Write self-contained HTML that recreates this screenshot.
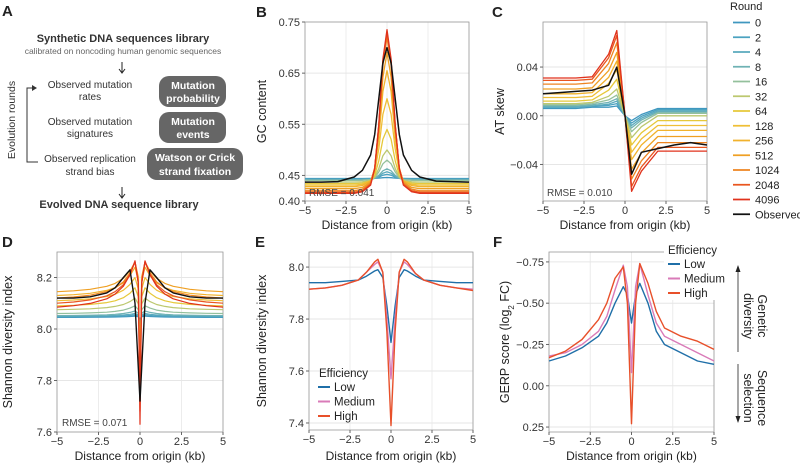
<!DOCTYPE html>
<html><head><meta charset="utf-8"><style>
html,body{margin:0;padding:0;background:#fff;overflow:hidden;}
svg{display:block;font-family:"Liberation Sans",sans-serif;}
</style></head><body>
<svg id="fig" width="800" height="467" viewBox="0 0 800 467" xmlns="http://www.w3.org/2000/svg">
<g font-size="10" fill="#333">
<text x="2" y="16" font-size="15" font-weight="bold" fill="#222">A</text>
<text x="123" y="42" text-anchor="middle" font-weight="bold" font-size="11">Synthetic DNA sequences library</text>
<text x="123" y="54" text-anchor="middle" font-size="8.5" fill="#666">calibrated on noncoding human genomic sequences</text>
<path d="M122 62 V72 M119 69 L122 73 L125 69" stroke="#222" fill="none"/>
<text x="90" y="88" text-anchor="middle">Observed mutation</text>
<text x="90" y="100" text-anchor="middle">rates</text>
<text x="90" y="125" text-anchor="middle">Observed mutation</text>
<text x="90" y="137" text-anchor="middle">signatures</text>
<text x="90" y="162" text-anchor="middle">Observed replication</text>
<text x="90" y="175" text-anchor="middle">strand bias</text>
<rect x="159" y="76" width="67" height="31" rx="10" fill="#666"/>
<text x="193" y="89" text-anchor="middle" fill="#fff" font-weight="bold" font-size="10.5">Mutation</text>
<text x="193" y="102" text-anchor="middle" fill="#fff" font-weight="bold" font-size="10.5">probability</text>
<rect x="159" y="112" width="67" height="31" rx="10" fill="#666"/>
<text x="193" y="125" text-anchor="middle" fill="#fff" font-weight="bold" font-size="10.5">Mutation</text>
<text x="193" y="138" text-anchor="middle" fill="#fff" font-weight="bold" font-size="10.5">events</text>
<rect x="147" y="148" width="96" height="32" rx="10" fill="#666"/>
<text x="195" y="161" text-anchor="middle" fill="#fff" font-weight="bold" font-size="10.5">Watson or Crick</text>
<text x="195" y="175" text-anchor="middle" fill="#fff" font-weight="bold" font-size="10.5">strand fixation</text>
<path d="M36 88 H27 V162 H38" stroke="#333" fill="none"/>
<path d="M32 85 L37 88 L32 91 Z" fill="#333"/>
<text transform="translate(15,120) rotate(-90)" text-anchor="middle" font-size="10.5">Evolution rounds</text>
<path d="M122 187 V197 M119 194 L122 198 L125 194" stroke="#222" fill="none"/>
<text x="119" y="208" text-anchor="middle" font-weight="bold" font-size="11">Evolved DNA sequence library</text>
</g>
<g id="charts"></g>
</svg>
<script>
// ----- Data -----
const rounds = ["0","2","4","8","16","32","64","128","256","512","1024","2048","4096"];
const roundColors = ["#3f97bf","#4ba2c0","#5aaabd","#6fb2b4","#94c09c","#bcc86f","#e6c83a","#efbf36","#f1b22d","#efa024","#ee8420","#e9561f","#e0321c"];
// Panel B (GC content)
const bX = [-5,-4,-3,-2,-1.5,-1,-0.75,-0.5,-0.25,0,0.25,0.5,0.75,1,1.5,2,3,4,5];
const bObserved = [0.437,0.437,0.438,0.447,0.46,0.49,0.53,0.6,0.67,0.70,0.67,0.6,0.53,0.49,0.46,0.447,0.439,0.438,0.437];
const bRoundBase = [0.444,0.443,0.442,0.441,0.44,0.437,0.434,0.431,0.428,0.424,0.42,0.417,0.415];
const bRoundPeak = [0.446,0.452,0.457,0.463,0.48,0.5,0.54,0.6,0.655,0.69,0.72,0.73,0.735];
const bShape = [0,0,0,0,0.01,0.05,0.15,0.42,0.82,1,0.82,0.42,0.15,0.05,0.01,0,0,0,0];
// Panel C (AT skew)
const cX = [-5,-4,-3,-2,-1,-0.5,0,0.4,1,2,3,4,5];
const cObserved = [0.018,0.019,0.02,0.021,0.025,0.04,0.0,-0.048,-0.03,-0.027,-0.024,-0.022,-0.024];
const cRoundLeft = [0.006,0.007,0.007,0.008,0.009,0.01,0.012,0.015,0.018,0.022,0.026,0.029,0.031];
const cRoundPeak = [0.008,0.01,0.012,0.014,0.017,0.022,0.03,0.038,0.045,0.052,0.06,0.066,0.07];
const cRoundTrough = [-0.004,-0.006,-0.008,-0.01,-0.013,-0.018,-0.024,-0.03,-0.036,-0.044,-0.052,-0.058,-0.062];
const cRoundRight = [0.006,0.005,0.004,0.003,0.002,0.0,-0.004,-0.008,-0.012,-0.017,-0.022,-0.026,-0.029];
// Panel D
const dX = [-5,-4,-3,-2,-1.5,-1,-0.6,-0.3,-0.1,0,0.1,0.3,0.6,1,1.5,2,3,4,5];
const dObserved = [8.12,8.12,8.125,8.14,8.16,8.2,8.23,8.1,7.85,7.72,7.85,8.1,8.23,8.2,8.16,8.14,8.125,8.12,8.12];
const dRoundBase = [8.045,8.047,8.05,8.052,8.06,8.075,8.09,8.11,8.13,8.145,8.12,8.1,8.085];
const dRoundPeak = [8.05,8.055,8.06,8.07,8.09,8.12,8.16,8.2,8.24,8.26,8.26,8.26,8.265];
const dRoundDip = [8.04,8.03,8.02,8.0,7.98,7.95,7.9,7.85,7.8,7.76,7.72,7.68,7.63];
const dShape = [0,0.03,0.08,0.18,0.28,0.45,0.7,1,0.5,-1,0.5,1,0.7,0.45,0.28,0.18,0.08,0.03,0];
// Panel E
const eX = [-5,-4,-3,-2,-1.5,-1,-0.8,-0.5,-0.25,0,0.25,0.5,0.8,1,1.5,2,3,4,5];
const eLow = [7.94,7.94,7.945,7.95,7.965,7.985,7.99,7.96,7.85,7.71,7.85,7.96,7.99,7.985,7.965,7.95,7.945,7.94,7.94];
const eMed = [7.915,7.92,7.93,7.95,7.98,8.01,8.02,7.98,7.8,7.57,7.8,7.98,8.02,8.01,7.975,7.95,7.93,7.92,7.915];
const eHigh = [7.915,7.92,7.93,7.95,7.98,8.02,8.03,7.98,7.75,7.39,7.75,7.98,8.03,8.02,7.975,7.95,7.93,7.92,7.91];
// Panel F
const fX = [-5,-4,-3,-2,-1.5,-1,-0.5,-0.25,0,0.25,0.5,1,1.5,2,3,4,5];
const fLow = [-0.15,-0.18,-0.23,-0.3,-0.38,-0.5,-0.6,-0.55,-0.38,-0.55,-0.62,-0.5,-0.33,-0.25,-0.2,-0.15,-0.13];
const fMed = [-0.18,-0.2,-0.25,-0.33,-0.42,-0.58,-0.73,-0.6,-0.08,-0.6,-0.74,-0.55,-0.38,-0.3,-0.25,-0.2,-0.15];
const fHigh = [-0.17,-0.21,-0.28,-0.4,-0.5,-0.65,-0.72,-0.5,0.23,-0.5,-0.74,-0.62,-0.45,-0.35,-0.3,-0.27,-0.22];
const xTicks = [-5,-2.5,0,2.5,5];
const xTickLabels = ["−5","−2.5","0","2.5","5"];
const effNames = ["Low","Medium","High"];
const effColors = ["#1f6fa8","#d97bb8","#e8502a"];

// ----- Helpers -----
const NS = "http://www.w3.org/2000/svg";
const root = document.getElementById("charts");
function mk(tag, attrs, parent){const e=document.createElementNS(NS,tag);for(const k in attrs)e.setAttribute(k,attrs[k]);(parent||root).appendChild(e);return e;}
function txt(s, attrs, parent){const e=mk("text",attrs,parent);e.textContent=s;return e;}
function panel(name, L,R,T,B, ymin,ymax, yTicks, yLabels, ytitle, ytx, xtY){
  const g=mk("g",{});
  
  
  const sx=v=>L+(v+5)/10*(R-L);
  const sy=v=>B-(v-ymin)/(ymax-ymin)*(B-T);
  xTicks.forEach(t=>{mk("line",{x1:sx(t),x2:sx(t),y1:T,y2:B,stroke:"#ececec"},g);});
  yTicks.forEach(t=>{mk("line",{x1:L,x2:R,y1:sy(t),y2:sy(t),stroke:"#e6e6e6"},g);});
  const fr=mk("rect",{x:L,y:T,width:R-L,height:B-T,fill:"none",stroke:"#999","stroke-width":0.8},g);
  
  
  xTicks.forEach((t,i)=>{
    mk("line",{x1:sx(t),x2:sx(t),y1:B,y2:B+3,stroke:"#666"},g);
    const tl=txt(xTickLabels[i],{x:sx(t),y:B+13,"text-anchor":"middle","font-size":"11",fill:"#333"},g);
    
    
  });
  yTicks.forEach((t,i)=>{
    mk("line",{x1:L-3,x2:L,y1:sy(t),y2:sy(t),stroke:"#666"},g);
    const tl=txt(yLabels[i],{x:L-5,y:sy(t)+4,"text-anchor":"end","font-size":"11",fill:"#333"},g);
    
    
  });
  const xt=txt("Distance from origin (kb)",{x:(L+R)/2,y:xtY,"text-anchor":"middle","font-size":"12",fill:"#222"},g);
  
  
  const yt=mk("text",{transform:`translate(${ytx},${(T+B)/2}) rotate(-90)`,"text-anchor":"middle","font-size":"12.5",fill:"#222"},g);
  yt.innerHTML=ytitle;
  
  
  return {g,sx,sy};
}
function line(p, xs, ys, color, w, name){
  const d=xs.map((x,i)=>(i?"L":"M")+p.sx(x).toFixed(1)+" "+p.sy(ys[i]).toFixed(1)).join(" ");
  const e=mk("path",{d,fill:"none",stroke:color,"stroke-width":w,"stroke-linejoin":"round"},p.g);
  
  
}
function label(s,x,y){const e=txt(s,{x,y,"font-size":"15","font-weight":"bold",fill:"#222"});
  
  }

// ----- Panel B -----
label("B",256,17);
const pB=panel("panel-b-gc-content",305,469,22,201,0.40,0.75,[0.40,0.45,0.55,0.65,0.75],["0.40","0.45","0.55","0.65","0.75"],"GC content",266,229);
rounds.forEach((r,i)=>line(pB,bX,bShape.map(s=>bRoundBase[i]+(bRoundPeak[i]-bRoundBase[i])*s),roundColors[i],1.3,"gc-round-"+r));
line(pB,bX,bObserved,"#111",1.5,"gc-observed");
txt("RMSE = 0.041",{x:309,y:196,"font-size":"10",fill:"#444"},pB.g);

// ----- Panel C -----
label("C",492,17);
const pC=panel("panel-c-at-skew",543,707,22,201,-0.07,0.077,[-0.04,0,0.04],["−0.04","0.00","0.04"],"AT skew",504,229);
rounds.forEach((r,i)=>{
  const ys=[cRoundLeft[i],cRoundLeft[i],cRoundLeft[i],cRoundLeft[i]+0.001,(cRoundLeft[i]+cRoundPeak[i])/2,cRoundPeak[i],0,cRoundTrough[i],(cRoundTrough[i]+cRoundRight[i])/2,cRoundRight[i],cRoundRight[i],cRoundRight[i],cRoundRight[i]];
  line(pC,cX,ys,roundColors[i],1.3,"at-skew-round-"+r);
});
line(pC,cX,cObserved,"#111",1.5,"at-skew-observed");
txt("RMSE = 0.010",{x:547,y:196,"font-size":"10",fill:"#444"},pC.g);

// Legend
const lg=mk("g",{});


txt("Round",{x:730,y:10,"font-size":"11",fill:"#222"},lg);
rounds.concat(["Observed"]).forEach((r,i)=>{
  const y=22.5+14.75*i;
  const c=i<rounds.length?roundColors[i]:"#111";
  const ln=mk("line",{x1:733,x2:750,y1:y,y2:y,stroke:c,"stroke-width":1.8},lg);
  
  
  const t=txt(r,{x:755,y:y+4,"font-size":"11",fill:"#222"},lg);
  
  
});

// ----- Panel D -----
label("D",2,247);
const pD=panel("panel-d-shannon-rounds",57,223,252,432,7.6,8.299,[7.6,7.8,8.0,8.2],["7.6","7.8","8.0","8.2"],"Shannon diversity index",12,460);
rounds.forEach((r,i)=>line(pD,dX,dShape.map(s=>s>=0?dRoundBase[i]+(dRoundPeak[i]-dRoundBase[i])*s:dRoundDip[i]),roundColors[i],1.2,"shannon-round-"+r));
line(pD,dX,dObserved,"#111",1.4,"shannon-observed");
txt("RMSE = 0.071",{x:62,y:426,"font-size":"10",fill:"#444"},pD.g);

// ----- Panel E -----
label("E",255,247);
const pE=panel("panel-e-shannon-efficiency",309,473,252,430,7.373,8.058,[7.4,7.6,7.8,8.0],["7.4","7.6","7.8","8.0"],"Shannon diversity index",266,460);
[eLow,eMed,eHigh].forEach((s,i)=>line(pE,eX,s,effColors[i],1.4,"shannon-"+effNames[i].toLowerCase()));
txt("Efficiency",{x:319,y:377,"font-size":"11.5",fill:"#222"},pE.g);
effNames.forEach((n,i)=>{const y=387+14.5*i;
  const ln=mk("line",{x1:318,x2:330,y1:y,y2:y,stroke:effColors[i],"stroke-width":2},pE.g);
  
  
  const t=txt(n,{x:334,y:y+4,"font-size":"11.5",fill:"#222"},pE.g);
  
  });

// ----- Panel F -----
label("F",493,247);
const pF=panel("panel-f-gerp",549,714,252,432,0.28,-0.81,[0.25,0,-0.25,-0.5,-0.75],["0.25","0.00","−0.25","−0.50","−0.75"],"GERP score (log<tspan baseline-shift='sub' font-size='8'>2</tspan> FC)",509,460);
[fLow,fMed,fHigh].forEach((s,i)=>line(pF,fX,s,effColors[i],1.4,"gerp-"+effNames[i].toLowerCase()));
mk("rect",{x:664,y:244,width:60,height:56,fill:"#fff"},pF.g);
txt("Efficiency",{x:668,y:254,"font-size":"11.5",fill:"#222"},pF.g);
effNames.forEach((n,i)=>{const y=264+14.5*i;
  const ln=mk("line",{x1:668,x2:680,y1:y,y2:y,stroke:effColors[i],"stroke-width":2},pF.g);
  
  
  const t=txt(n,{x:684,y:y+4,"font-size":"11.5",fill:"#222"},pF.g);
  
  });
const ann=mk("g",{});


mk("path",{d:"M738 270 V418",stroke:"#222","stroke-width":0.8},ann);
mk("path",{d:"M735.5 272 L738 265 L740.5 272 Z M735.5 416 L738 423 L740.5 416 Z",fill:"#222"},ann);
mk("rect",{x:733,y:352,width:10,height:12,fill:"#fff"},ann);
const gd=mk("text",{transform:"translate(758,316) rotate(90)","text-anchor":"middle","font-size":"12.5",fill:"#222"},ann);
gd.innerHTML="<tspan x='0' dy='0'>Genetic</tspan><tspan x='0' dy='14'>diversity</tspan>";


const ss=mk("text",{transform:"translate(758,398) rotate(90)","text-anchor":"middle","font-size":"12.5",fill:"#222"},ann);
ss.innerHTML="<tspan x='0' dy='0'>Sequence</tspan><tspan x='0' dy='14'>selection</tspan>";


</script>
</body></html>
